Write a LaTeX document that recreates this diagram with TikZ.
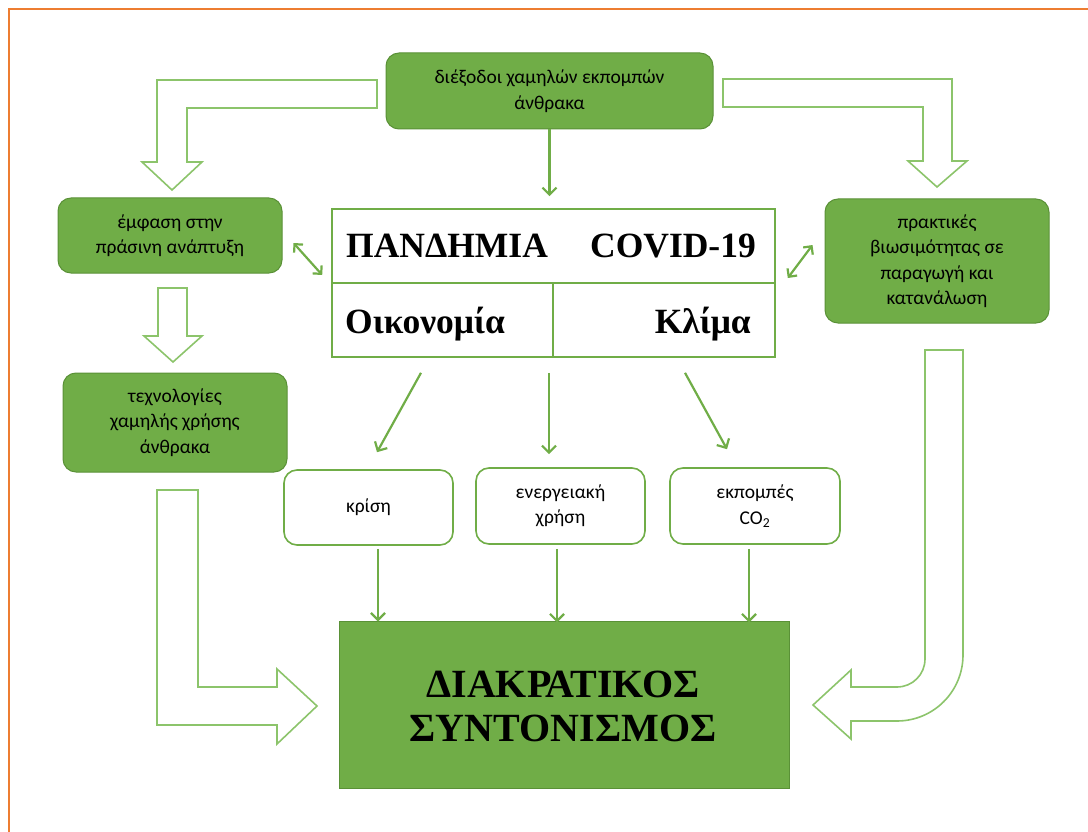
\documentclass[tikz,border=0pt]{standalone}
\usepackage{fontspec}
\setmainfont{Carlito}
\newfontfamily\tnr{Liberation Serif}
\usetikzlibrary{arrows.meta}
\definecolor{gfill}{HTML}{70AD47}
\definecolor{gdark}{HTML}{5A9137}
\definecolor{gline}{HTML}{70AD47}
\definecolor{glight}{HTML}{8CC46B}
\definecolor{orng}{HTML}{ED7D31}
\tikzset{
  gbox/.style={draw=gdark, line width=1pt, fill=gfill, rounded corners=13, align=center,
    font=\fontsize{19.5}{25.5}\selectfont, inner sep=0pt},
  wbox/.style={draw=gline, line width=1.6pt, fill=white, rounded corners=13, align=center,
    font=\fontsize{19.5}{25.5}\selectfont, inner sep=0pt},
  arr/.style={draw=gline, line width=2.2pt, -{Straight Barb[length=7pt,width=14pt,line width=2.2pt]}},
  darr/.style={draw=gline, line width=2.2pt, {Straight Barb[length=6pt,width=12pt,line width=2.2pt]}-{Straight Barb[length=6pt,width=12pt,line width=2.2pt]}},
  hollow/.style={draw=glight, line width=1.6pt, fill=white, line join=miter},
  tabtxt/.style={font=\tnr\bfseries\fontsize{35.5}{45}\selectfont, inner sep=0pt},
  bigtxt/.style={font=\tnr\bfseries\fontsize{40}{45}\selectfont, inner sep=0pt}
}
\begin{document}
\begin{tikzpicture}[x=1pt,y=-1pt]
\useasboundingbox (0,0) rectangle (1088,832);
% orange frame
\draw[orng, line width=2pt] (9,840) -- (9,9) -- (1095,9);

% hollow arrows
\draw[hollow] (377,80) -- (157,80) -- (157,162) -- (142,162) -- (172,190) -- (202,162) -- (187,162) -- (187,108) -- (377,108) -- cycle;
\draw[hollow] (723,79) -- (952,79) -- (952,161) -- (967,161) -- (937,187) -- (908,161) -- (923,161) -- (923,107) -- (723,107) -- cycle;
\draw[hollow] (158,288) -- (187,288) -- (187,336) -- (202,336) -- (173,362) -- (144,336) -- (158,336) -- cycle;
\draw[hollow] (157,490) -- (198,490) -- (198,687) -- (277,687) -- (277,669) -- (317,706) -- (277,744) -- (277,725) -- (157,725) -- cycle;
\draw[hollow] (925,350) -- (963,350) -- (963,655) .. controls (963,691.5) and (933.5,721) .. (897,721) -- (851,721) -- (851,739) -- (813,705) -- (851,670) -- (851,687) -- (897,687) .. controls (912.5,687) and (925,674.5) .. (925,659) -- cycle;

% green boxes
\node[gbox, minimum width=327, minimum height=76] (top) at (549.5,91) {διέξοδοι χαμηλών εκπομπών\\άνθρακα};
\node[gbox, minimum width=224, minimum height=75] (l1) at (170,235.5) {έμφαση στην\\πράσινη ανάπτυξη};
\node[gbox, minimum width=224, minimum height=99] (l2) at (175,422.5) {τεχνολογίες\\χαμηλής χρήσης\\άνθρακα};
\node[gbox, minimum width=224, minimum height=124] (r1) at (937,261) {πρακτικές\\βιωσιμότητας σε\\παραγωγή και\\κατανάλωση};

% central table
\node[draw=gline, line width=1.6pt, minimum width=443, minimum height=148, inner sep=0pt] (tab) at (553.5,283) {};
\draw[gline, line width=1.6pt] (tab.west) -- (tab.east);
\draw[gline, line width=1.6pt] (tab.center -| 553,0) -- (tab.south -| 553,0);
\node[tabtxt, anchor=base west] (pan) at (346,258) {ΠΑΝΔΗΜΙΑ};
\node[tabtxt, anchor=base east] (cov) at (756,258) {COVID-19};
\node[tabtxt, anchor=base west] (oik) at (345,333) {Οικονομία};
\node[tabtxt, anchor=base east] (kli) at (751,333) {Κλίμα};

% small white boxes
\node[wbox, minimum width=169, minimum height=75] (kr) at (368.5,507.5) {κρίση};
\node[wbox, minimum width=169, minimum height=76] (en) at (560.5,506) {ενεργειακή\\χρήση};
\node[wbox, minimum width=170, minimum height=76] (ek) at (755,506) {εκπομπές\\CO\textsubscript{2}};

% big box
\node[draw=gdark, line width=1pt, fill=gfill, minimum width=450, minimum height=167, inner sep=0pt] (big) at (564,704.5) {};
\node[bigtxt, anchor=base] (d1) at (563,697) {ΔΙΑΚΡΑΤΙΚΟΣ};
\node[bigtxt, anchor=base] (d2) at (563,741) {ΣΥΝΤΟΝΙΣΜΟΣ};

% connectors
\draw[arr, shorten >=12pt] (top.south) -- (top.south |- tab.north);
\draw[darr] ([shift={(11,7.5)}]l1.east) -- ([shift={(-9,-8)}]tab.west);
\draw[darr] ([shift={(12,-5)}]tab.east) -- ([shift={(-12,-16)}]r1.west);
\draw[arr] ([shift={(-132.5,15)}]tab.south) -- ([shift={(8.5,-17)}]kr.north);
\draw[arr] ([shift={(-4.5,15)}]tab.south) -- ([shift={(-11.5,-13)}]en.north);
\draw[arr] ([shift={(131.5,15)}]tab.south) -- ([shift={(-28,-18)}]ek.north);
\draw[arr, shorten >=2pt] ([shift={(9.5,3)}]kr.south) -- ([shift={(9.5,3)}]kr.south |- big.north);
\draw[arr, shorten >=2pt] ([shift={(-3.5,4)}]en.south) -- ([shift={(-3.5,4)}]en.south |- big.north);
\draw[arr, shorten >=2pt] ([shift={(-6,4)}]ek.south) -- ([shift={(-6,4)}]ek.south |- big.north);
\end{tikzpicture}
\end{document}
